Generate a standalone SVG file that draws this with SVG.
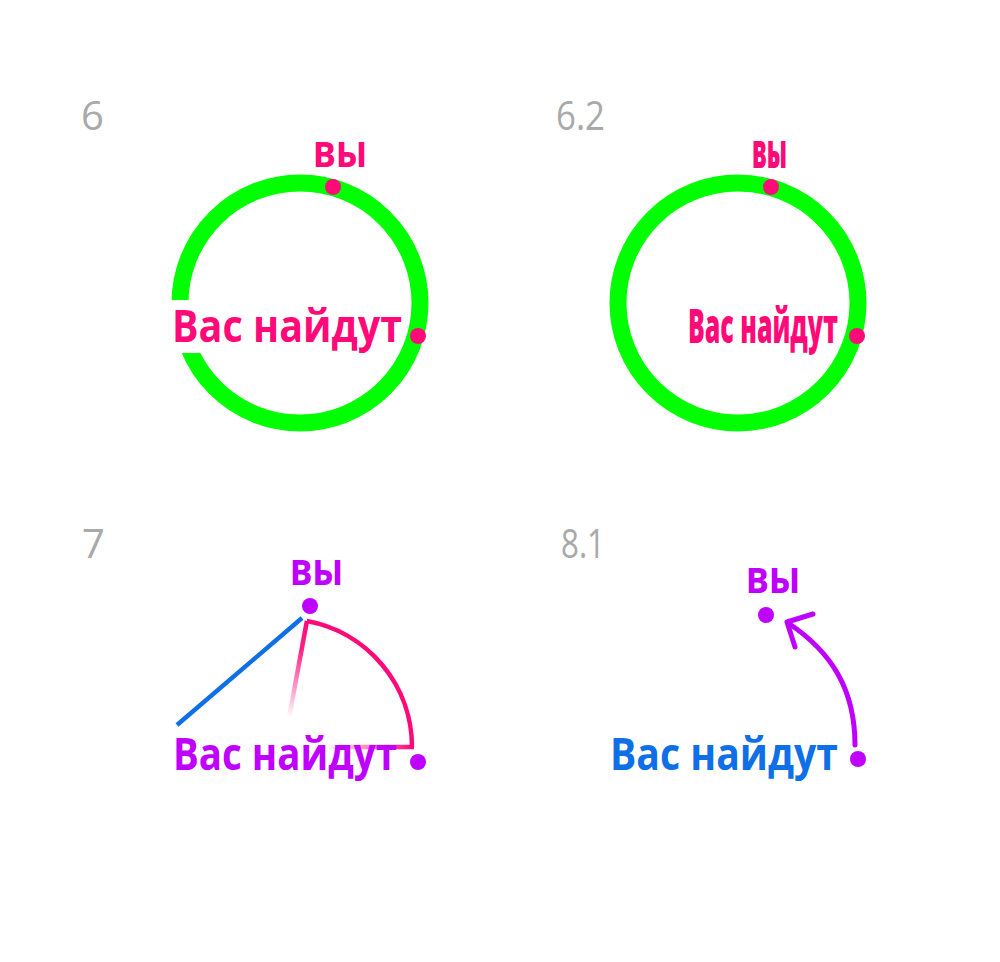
<svg xmlns="http://www.w3.org/2000/svg" width="1000" height="962" viewBox="0 0 1000 962">
<style>
.num{font-family:"Open Sans","Noto Sans",sans-serif;font-size:40px;fill:#a9a9a9}
.lbl{font-family:"Open Sans","Noto Sans",sans-serif;font-weight:bold;font-size:44px}
.cond{font-family:"Open Sans","Noto Sans",sans-serif;font-weight:800;font-size:47px}
.ring{fill:none;stroke:#00ff00;stroke-width:17}
.pink{fill:#ff0a78}
.purple{fill:#c000ff}
</style>
<defs>
<linearGradient id="fadeA" gradientUnits="userSpaceOnUse" x1="307" y1="621" x2="289" y2="718">
<stop offset="0" stop-color="#ff0a78" stop-opacity="1"/>
<stop offset="0.3" stop-color="#ff0a78" stop-opacity="0.9"/>
<stop offset="1" stop-color="#ff0a78" stop-opacity="0"/>
</linearGradient>
<linearGradient id="fadeB" gradientUnits="userSpaceOnUse" x1="412" y1="747" x2="325" y2="747">
<stop offset="0" stop-color="#ff0a78" stop-opacity="1"/>
<stop offset="1" stop-color="#ff0a78" stop-opacity="0"/>
</linearGradient>
</defs>
<rect width="1000" height="962" fill="#ffffff"/>

<g id="panel-6">
<text class="num" x="81" y="130">6</text>
<circle class="ring" cx="300" cy="303" r="120"/>
<rect x="165" y="300" width="135" height="53" fill="#ffffff"/>
<text class="lbl pink" x="172" y="342" textLength="230" lengthAdjust="spacingAndGlyphs">Вас найдут</text>
<text class="lbl pink" x="313" y="167" textLength="54" lengthAdjust="spacingAndGlyphs">вы</text>
<circle class="pink" cx="333" cy="187" r="8"/>
<circle class="pink" cx="418" cy="336" r="8"/>
</g>

<g id="panel-6-2">
<text class="num" x="556" y="130" textLength="49" lengthAdjust="spacingAndGlyphs">6.2</text>
<circle class="ring" cx="738" cy="303" r="120"/>
<text class="cond pink" x="688" y="343" textLength="150" lengthAdjust="spacingAndGlyphs">Вас найдут</text>
<text class="cond pink" x="752" y="168" textLength="35" lengthAdjust="spacingAndGlyphs">вы</text>
<circle class="pink" cx="771" cy="187" r="8"/>
<circle class="pink" cx="857" cy="336" r="8"/>
</g>

<g id="panel-7">
<text class="num" x="82" y="558">7</text>
<g id="connectors-7">
<line x1="302" y1="618" x2="177" y2="725" stroke="#0f6fe6" stroke-width="4.5"/>
<path d="M306.9,621 A128,128 0 0 1 412,747" fill="none" stroke="#ff0a78" stroke-width="4.5"/>
<line x1="306.9" y1="621" x2="289" y2="718" stroke="url(#fadeA)" stroke-width="4.5"/>
<line x1="414" y1="747" x2="325" y2="747" stroke="url(#fadeB)" stroke-width="4.5"/>
</g>
<text class="lbl purple" x="173" y="770" textLength="224" lengthAdjust="spacingAndGlyphs">Вас найдут</text>
<text class="lbl purple" x="290" y="585" textLength="53" lengthAdjust="spacingAndGlyphs">вы</text>
<circle class="purple" cx="310" cy="606" r="8"/>
<circle class="purple" cx="418" cy="762" r="8"/>
</g>

<g id="panel-8-1">
<text class="num" x="561" y="558" textLength="44" lengthAdjust="spacingAndGlyphs">8.1</text>
<g id="connectors-8-1" fill="none" stroke="#c000ff" stroke-width="5" stroke-linecap="round" stroke-linejoin="round">
<path d="M855,745 C855,690 832,652 788,623"/>
<path d="M813,614 L787,622 L795,647"/>
</g>
<text class="lbl" fill="#0f6fe6" x="610" y="770" textLength="228" lengthAdjust="spacingAndGlyphs">Вас найдут</text>
<text class="lbl purple" x="746" y="593" textLength="54" lengthAdjust="spacingAndGlyphs">вы</text>
<circle class="purple" cx="766" cy="615" r="8"/>
<circle class="purple" cx="858" cy="759" r="8"/>
</g>
</svg>
